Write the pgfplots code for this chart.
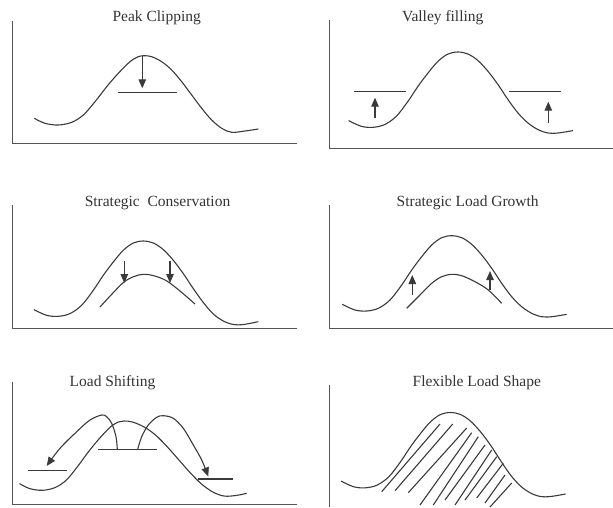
\documentclass[border=0pt]{standalone}
\usepackage{fontspec}
\setmainfont{Liberation Serif}
\usepackage{pgfplots}
\pgfplotsset{compat=1.18}
\usetikzlibrary{arrows.meta}
\definecolor{ink}{HTML}{3A3A3A}
\definecolor{axisgray}{HTML}{555555}
\definecolor{txt}{HTML}{333333}
\pgfplotsset{
  panel/.style={
    x=1pt, y=1pt, anchor=south west, clip=false, enlargelimits=false,
    axis x line=bottom, axis y line=left,
    axis line style={-, draw=axisgray, line width=0.9pt},
    xtick=\empty, ytick=\empty,
  },
  ln/.style={ink, line width=1.1pt, mark=none},
  curve/.style={ln, smooth, tension=0.55},
  arr/.style={ln, -{Triangle[length=9pt,width=7.5pt]}},
}
\tikzset{ttl/.style={font=\fontsize{15.5}{18}\selectfont, text=txt, anchor=base, inner sep=0pt}}
\begin{document}
\begin{tikzpicture}
\useasboundingbox (0pt,0pt) rectangle (613pt,-507pt);

% Panel 1: Peak Clipping
\begin{axis}[panel, at={(12pt,-143pt)}, xmin=12, xmax=297, ymin=-143, ymax=-21]
\addplot[curve] coordinates {(34.3,-118.3) (45,-123.3) (58.3,-125) (71.7,-122.3) (83.3,-115) (95,-101.7) (106.7,-86.7) (118.3,-73.3) (130,-61.7) (138.3,-56.7) (144.3,-55.7) (151.7,-56.7) (161.7,-61.7) (171.7,-70) (181.7,-81.7) (191.7,-95) (201.7,-108.3) (211.7,-120) (221.7,-128.3) (231.7,-132.3) (245,-131) (258.3,-129)};
\addplot[ln] coordinates {(117.7,-92.3) (176.7,-92.3)};
\addplot[arr] coordinates {(142.3,-55.7) (142.3,-88.3)};
\node[ttl] at (axis cs:156.7,-21.5) {Peak Clipping};
\end{axis}

% Panel 2: Valley filling
\begin{axis}[panel, at={(329pt,-148pt)}, xmin=329, xmax=612.5, ymin=-148, ymax=-20]
\addplot[curve] coordinates {(348.6,-120.6) (361.3,-126.3) (373,-127.3) (384.6,-124.6) (396.3,-116.3) (408,-101.3) (418,-86.3) (428,-73) (438,-61.3) (448,-54) (458,-52) (468,-54) (478,-60.6) (488,-71.3) (498,-84.6) (508,-99.6) (518,-113) (528,-123) (538,-129.6) (548,-133) (558,-133) (573,-130.6)};
\addplot[ln] coordinates {(354.3,-91.7) (406,-91.7)};
\addplot[ln] coordinates {(509.3,-91.7) (561,-91.7)};
\addplot[arr] coordinates {(375,-118.3) (375,-97.7)};
\addplot[arr] coordinates {(548.3,-123.3) (548.3,-101.7)};
\node[ttl] at (axis cs:442.7,-21.5) {Valley filling};
\end{axis}

% Panel 3: Strategic Conservation
\begin{axis}[panel, at={(12pt,-328pt)}, xmin=12, xmax=297, ymin=-328, ymax=-205]
\addplot[curve] coordinates {(33.9,-309.6) (46.6,-315.3) (58.3,-316.3) (69.9,-313.6) (81.6,-305.3) (93.3,-290.3) (103.3,-275.3) (113.3,-262) (123.3,-250.3) (133.3,-243) (143.3,-241) (153.3,-243) (163.3,-249.6) (173.3,-260.3) (183.3,-273.6) (193.3,-288.6) (203.3,-302.5) (213.3,-314) (223.3,-321) (233.3,-324.5) (243.3,-324.5) (258.3,-321.7)};
\addplot[curve] coordinates {(100,-307) (112,-294) (124,-282) (134,-276.5) (143,-274.3) (153,-275.5) (166,-280.5) (180,-291) (195,-304)};
\addplot[arr] coordinates {(124.3,-261) (124.3,-283)};
\addplot[arr] coordinates {(170,-261) (170,-283)};
\node[ttl] at (axis cs:157.5,-206) {Strategic\ \ Conservation};
\end{axis}

% Panel 4: Strategic Load Growth
\begin{axis}[panel, at={(329pt,-328pt)}, xmin=329, xmax=612.5, ymin=-328, ymax=-205]
\addplot[curve] coordinates {(342.3,-304.3) (355,-310) (366.7,-311) (378.3,-308.3) (390,-300) (401.7,-285) (411.7,-270) (421.7,-256.7) (431.7,-245) (441.7,-237.7) (451.7,-235.7) (461.7,-237.7) (471.7,-244.3) (481.7,-255) (491.7,-268.3) (501.7,-283.3) (511.7,-296.7) (521.7,-306.7) (531.7,-313.3) (541.7,-316.7) (551.7,-316.7) (566.7,-314.3)};
\addplot[curve] coordinates {(406.7,-308.3) (418.3,-296.7) (431.7,-283.3) (441.7,-276.7) (451.7,-274.3) (461.7,-275.7) (475,-281.7) (488.3,-290) (501.7,-303.3)};
\addplot[arr] coordinates {(412.3,-295) (412.3,-275)};
\addplot[arr] coordinates {(490,-290) (490,-271)};
\node[ttl] at (axis cs:467.7,-206) {Strategic Load Growth};
\end{axis}

% Panel 5: Load Shifting
\begin{axis}[panel, at={(12pt,-504pt)}, xmin=12, xmax=297, ymin=-504, ymax=-382]
\addplot[curve] coordinates {(19.5,-483.6) (29.7,-488.6) (42.3,-490.3) (55,-487.6) (66.1,-480.3) (77.2,-467) (88.3,-452) (99.3,-438.6) (110.4,-427) (118.3,-422) (124,-421) (132.5,-422) (144,-426.9) (155.5,-435) (167,-446.5) (178.5,-459.5) (190,-472.5) (201.5,-484) (213,-492.1) (224.5,-496.1) (237,-495.3) (246.7,-493.3)};
\addplot[ln] coordinates {(98.3,-449.3) (156.7,-449.3)};
\addplot[ln] coordinates {(28.3,-470.7) (66.7,-470.7)};
\addplot[ln] coordinates {(198.3,-479) (233.3,-479)};
\addplot[curve, -{Triangle[length=9pt,width=7.5pt]}] coordinates {(117.3,-449.3) (116,-436.7) (111.7,-423.3) (106.7,-416.7) (101.7,-415) (90,-420) (76.7,-431.7) (60,-448.3) (46.7,-466)};
\addplot[curve, -{Triangle[length=9pt,width=7.5pt]}] coordinates {(137.7,-449.3) (141.7,-436.7) (148.3,-425) (156.7,-417.3) (163.3,-415.7) (173.3,-418.3) (183.3,-428.3) (193.3,-445) (201.7,-460) (208.3,-476.5)};
\node[ttl] at (axis cs:112.5,-386.7) {Load Shifting};
\end{axis}

% Panel 6: Flexible Load Shape
\begin{axis}[panel, axis x line=none, at={(329pt,-507pt)}, xmin=329, xmax=612.5, ymin=-507, ymax=-385]
\addplot[curve] coordinates {(341.1,-481.1) (353.8,-486.8) (365.5,-487.8) (377.1,-485.1) (388.8,-476.8) (400.5,-461.8) (410.5,-446.8) (420.5,-433.5) (430.5,-421.8) (440.5,-414.5) (450.5,-412.5) (460.5,-414.5) (470.5,-421.1) (480.5,-431.8) (490.5,-445.1) (500.5,-460.5) (510.5,-475) (520.5,-486) (530.5,-493) (540.5,-496.5) (550.5,-496.5) (565.5,-494)};
\addplot[ln] coordinates {(381.7,-491.7) (440,-424)};
\addplot[ln] coordinates {(395,-490.7) (452.7,-424)};
\addplot[ln] coordinates {(408.3,-492.7) (466.7,-428)};
\addplot[ln] coordinates {(420,-505) (471.7,-432.7)};
\addplot[ln] coordinates {(433.3,-505) (478.3,-436.7)};
\addplot[ln] coordinates {(445,-500) (485,-445)};
\addplot[ln] coordinates {(455,-505) (491.7,-450)};
\addplot[ln] coordinates {(465,-500) (496.7,-456.7)};
\addplot[ln] coordinates {(476.7,-498) (503.3,-463.3)};
\addplot[ln] coordinates {(485,-503) (505,-475)};
\addplot[ln] coordinates {(490,-507) (511.7,-483)};
\node[ttl] at (axis cs:476.8,-386.7) {Flexible Load Shape};
\end{axis}
\end{tikzpicture}
\end{document}
